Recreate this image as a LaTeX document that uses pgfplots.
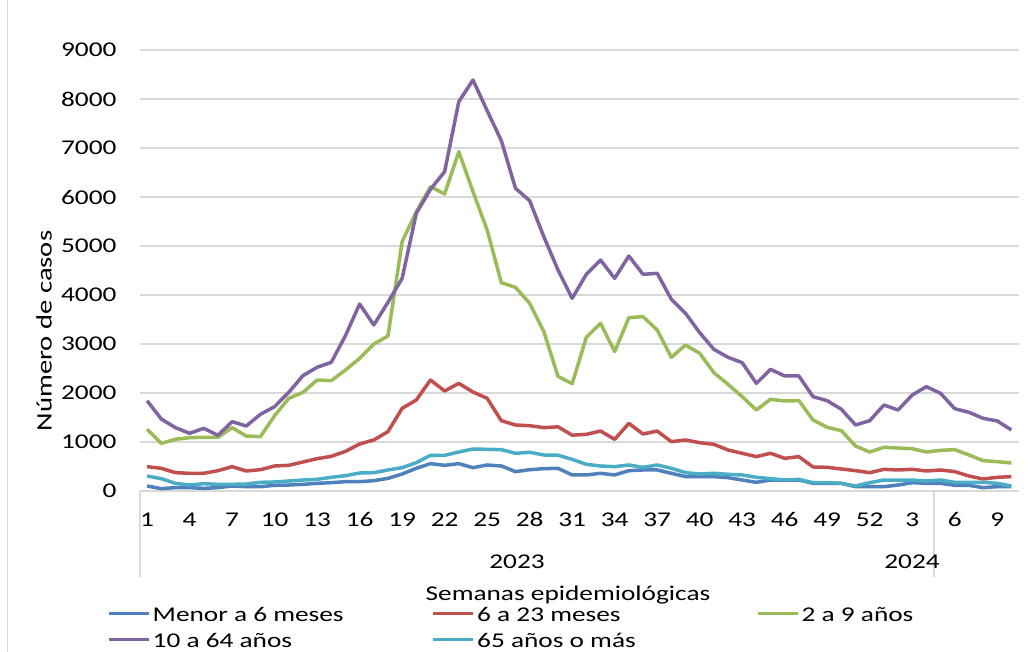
\documentclass[border=0pt]{standalone}
\usepackage{fontspec}
\setmainfont[FakeStretch=1.3]{Carlito}
\usepackage{pgfplots}
\pgfplotsset{compat=1.18}
\definecolor{cblue}{HTML}{4F81BD}
\definecolor{cred}{HTML}{C0504D}
\definecolor{cgreen}{HTML}{9BBB59}
\definecolor{cpurple}{HTML}{8064A2}
\definecolor{ccyan}{HTML}{4BACC6}
\definecolor{gridgray}{HTML}{D9D9D9}
\begin{document}
\begin{tikzpicture}[font=\fontsize{21}{25}\selectfont]
\useasboundingbox (0,0) rectangle (1034pt,652pt);
\draw[gridgray, line width=1pt] (7.5pt,0pt) -- (7.5pt,652pt);
\begin{axis}[
  at={(140pt,161pt)}, anchor=south west,
  scale only axis, width=878.5pt, height=441pt,
  xmin=-0.5, xmax=61.5, ymin=0, ymax=9000,
  axis line style={draw=none},
  tick style={draw=none},
  ytick={0,1000,...,9000},
  ymajorgrids, major grid style={draw=gridgray, line width=1.2pt},
  xtick={0,3,...,60},
  xticklabels={1,4,7,10,13,16,19,22,25,28,31,34,37,40,43,46,49,52,3,6,9},
  xticklabel style={anchor=base, yshift=-36pt},
  yticklabel style={anchor=east, xshift=-20pt},
  /pgf/number format/assume math mode=true,
  /pgf/number format/1000 sep={},
  legend columns=3,
  legend cell align=left,
  legend image code/.code={\draw[#1, line width=3.5pt] (0pt,0pt) -- (40pt,0pt);},
  legend style={at={(axis description cs:-0.0376,-0.2510)}, anchor=north west,
    draw=none, fill=none, inner sep=0pt, row sep=3pt,
    nodes={inner sep=2pt},
    /tikz/every even column/.append style={column sep=0pt}},
  every axis plot/.append style={line width=3.5pt, line join=round, mark=none},
]
\addplot[cblue] table[x=i, y=v] {
i v
0 102
1 48
2 68
3 68
4 54
5 68
6 102
7 88
8 88
9 116
10 122
11 136
12 156
13 170
14 190
15 190
16 211
17 258
18 347
19 463
20 558
21 524
22 558
23 476
24 531
25 510
26 395
27 435
28 456
29 463
30 327
31 327
32 361
33 327
34 415
35 429
36 429
37 361
38 293
39 293
40 293
41 272
42 224
43 177
44 224
45 224
46 224
47 156
48 156
49 156
50 88
51 88
52 88
53 122
54 170
55 156
56 156
57 116
58 116
59 68
60 88
61 88
};
\addlegendentry{\makebox[277pt][l]{\strut Menor a 6 meses}}
\addplot[cred] table[x=i, y=v] {
i v
0 497
1 463
2 374
3 361
4 361
5 415
6 497
7 408
8 435
9 510
10 524
11 592
12 660
13 707
14 809
15 959
16 1041
17 1211
18 1687
19 1857
20 2265
21 2041
22 2197
23 2020
24 1891
25 1435
26 1347
27 1333
28 1293
29 1310
30 1140
31 1156
32 1224
33 1054
34 1381
35 1163
36 1224
37 1007
38 1041
39 986
40 952
41 837
42 769
43 701
44 769
45 667
46 701
47 490
48 483
49 449
50 415
51 374
52 442
53 429
54 442
55 408
56 429
57 395
58 306
59 245
60 279
61 293
};
\addlegendentry{\makebox[277pt][l]{\strut 6 a 23 meses}}
\addplot[cgreen] table[x=i, y=v] {
i v
0 1259
1 973
2 1055
3 1088
4 1096
5 1096
6 1293
7 1122
8 1109
9 1537
10 1891
11 2014
12 2265
13 2252
14 2469
15 2707
16 3000
17 3163
18 5088
19 5701
20 6211
21 6061
22 6925
23 6109
24 5327
25 4251
26 4156
27 3830
28 3252
29 2340
30 2190
31 3136
32 3422
33 2844
34 3537
35 3558
36 3286
37 2728
38 2980
39 2810
40 2415
41 2177
42 1925
43 1653
44 1871
45 1837
46 1844
47 1449
48 1299
49 1231
50 918
51 796
52 891
53 877
54 864
55 796
56 830
57 844
58 735
59 619
60 599
61 571
};
\addlegendentry{\makebox[200pt][l]{\strut 2 a 9 años}}
\addplot[cpurple] table[x=i, y=v] {
i v
0 1843
1 1469
2 1293
3 1177
4 1279
5 1136
6 1415
7 1327
8 1565
9 1721
10 2014
11 2354
12 2524
13 2626
14 3170
15 3816
16 3388
17 3850
18 4340
19 5667
20 6156
21 6517
22 7946
23 8388
24 7762
25 7150
26 6177
27 5925
28 5190
29 4510
30 3932
31 4422
32 4714
33 4340
34 4796
35 4422
36 4442
37 3912
38 3626
39 3231
40 2891
41 2728
42 2619
43 2197
44 2483
45 2347
46 2347
47 1925
48 1843
49 1667
50 1347
51 1435
52 1755
53 1653
54 1959
55 2129
56 1993
57 1680
58 1606
59 1483
60 1429
61 1245
};
\addlegendentry{\makebox[277pt][l]{\strut 10 a 64 años}}
\addplot[ccyan] table[x=i, y=v] {
i v
0 306
1 252
2 156
3 122
4 149
5 136
6 136
7 143
8 177
9 184
10 204
11 224
12 238
13 279
14 313
15 367
16 374
17 429
18 476
19 578
20 728
21 728
22 796
23 857
24 850
25 844
26 769
27 789
28 735
29 730
30 646
31 544
32 510
33 497
34 531
35 483
36 531
37 463
38 374
39 347
40 361
41 340
42 327
43 279
44 252
45 224
46 238
47 170
48 170
49 156
50 102
51 170
52 224
53 224
54 224
55 204
56 224
57 177
58 177
59 177
60 156
61 102
};
\addlegendentry{\makebox[277pt][l]{\strut 65 años o más}}
\end{axis}
\draw[gridgray, line width=1.2pt] (140pt,161pt) -- (140pt,75pt);
\draw[gridgray, line width=1.2pt] (934pt,161pt) -- (934pt,75pt);
\node[anchor=base] at (517pt,83pt) {2023};
\node[anchor=base] at (912pt,83pt) {2024};
\node[anchor=base] at (568pt,51.3pt) {Semanas epidemiológicas};
\node[rotate=90, font=\fontsize{22}{26}\selectfont] at (44pt,321pt) {Número de casos};
\end{tikzpicture}
\end{document}
